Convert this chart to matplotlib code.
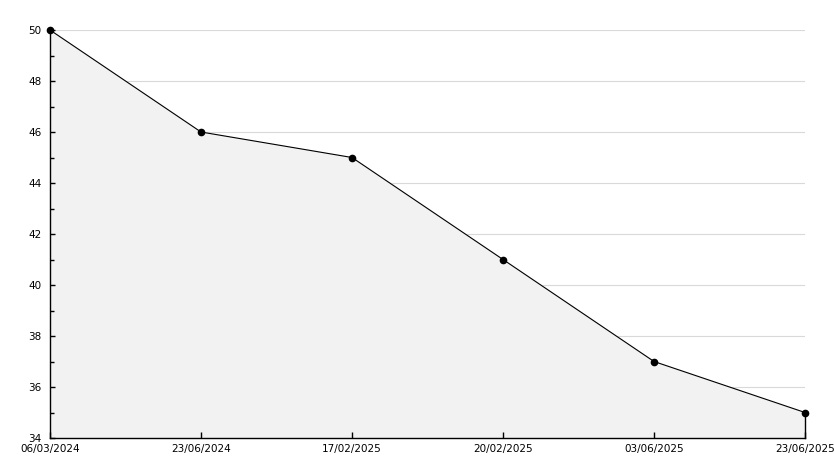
import numpy as np
import matplotlib
matplotlib.use("Agg")
import matplotlib.pyplot as plt
from matplotlib.ticker import MultipleLocator

dates = ["06/03/2024", "23/06/2024", "17/02/2025", "20/02/2025", "03/06/2025", "23/06/2025"]
values = [50, 46, 45, 41, 37, 35]

plt.rcParams.update({
    "font.family": "DejaVu Sans",
    "font.size": 7.5,
})

fig = plt.figure(figsize=(8.34, 4.68), dpi=100)
ax = fig.add_axes([50 / 834, 30 / 468, 755 / 834, 408 / 468])

x = np.arange(len(dates))
ymin, ymax = 34, 50

# grid lines sit under the filled area
for yv in range(ymin + 2, ymax + 1, 2):
    ax.axhline(yv, color="#d9d9d9", linewidth=0.8, zorder=0.1)

ax.fill_between(x, values, ymin, color="#f2f2f2", zorder=0.3)
ax.plot(x, values, color="black", linewidth=0.8, zorder=3)
# closing edge of the area at the last point
ax.plot([x[-1], x[-1]], [ymin, values[-1]], color="black", linewidth=1.0,
        zorder=3, clip_on=False)
ax.plot(x, values, linestyle="none", marker="o", markersize=4.5,
        color="black", zorder=4, clip_on=False)

ax.set_xlim(0, len(dates) - 1)
ax.set_ylim(ymin, ymax)
ax.yaxis.set_major_locator(MultipleLocator(2))
ax.yaxis.set_minor_locator(MultipleLocator(1))
ax.set_xticks(x)
ax.set_xticklabels(dates)
ax.set_axisbelow(False)

for s in ["top", "right"]:
    ax.spines[s].set_visible(False)
for s in ["left", "bottom"]:
    ax.spines[s].set_linewidth(1.0)

ax.tick_params(axis="both", which="both", direction="in", width=1, colors="black")
ax.tick_params(axis="x", length=4.3, pad=4)
ax.tick_params(axis="y", which="major", length=3.8, pad=6)
ax.tick_params(axis="y", which="minor", length=2.9)

fig.savefig("out.png", dpi=100)
